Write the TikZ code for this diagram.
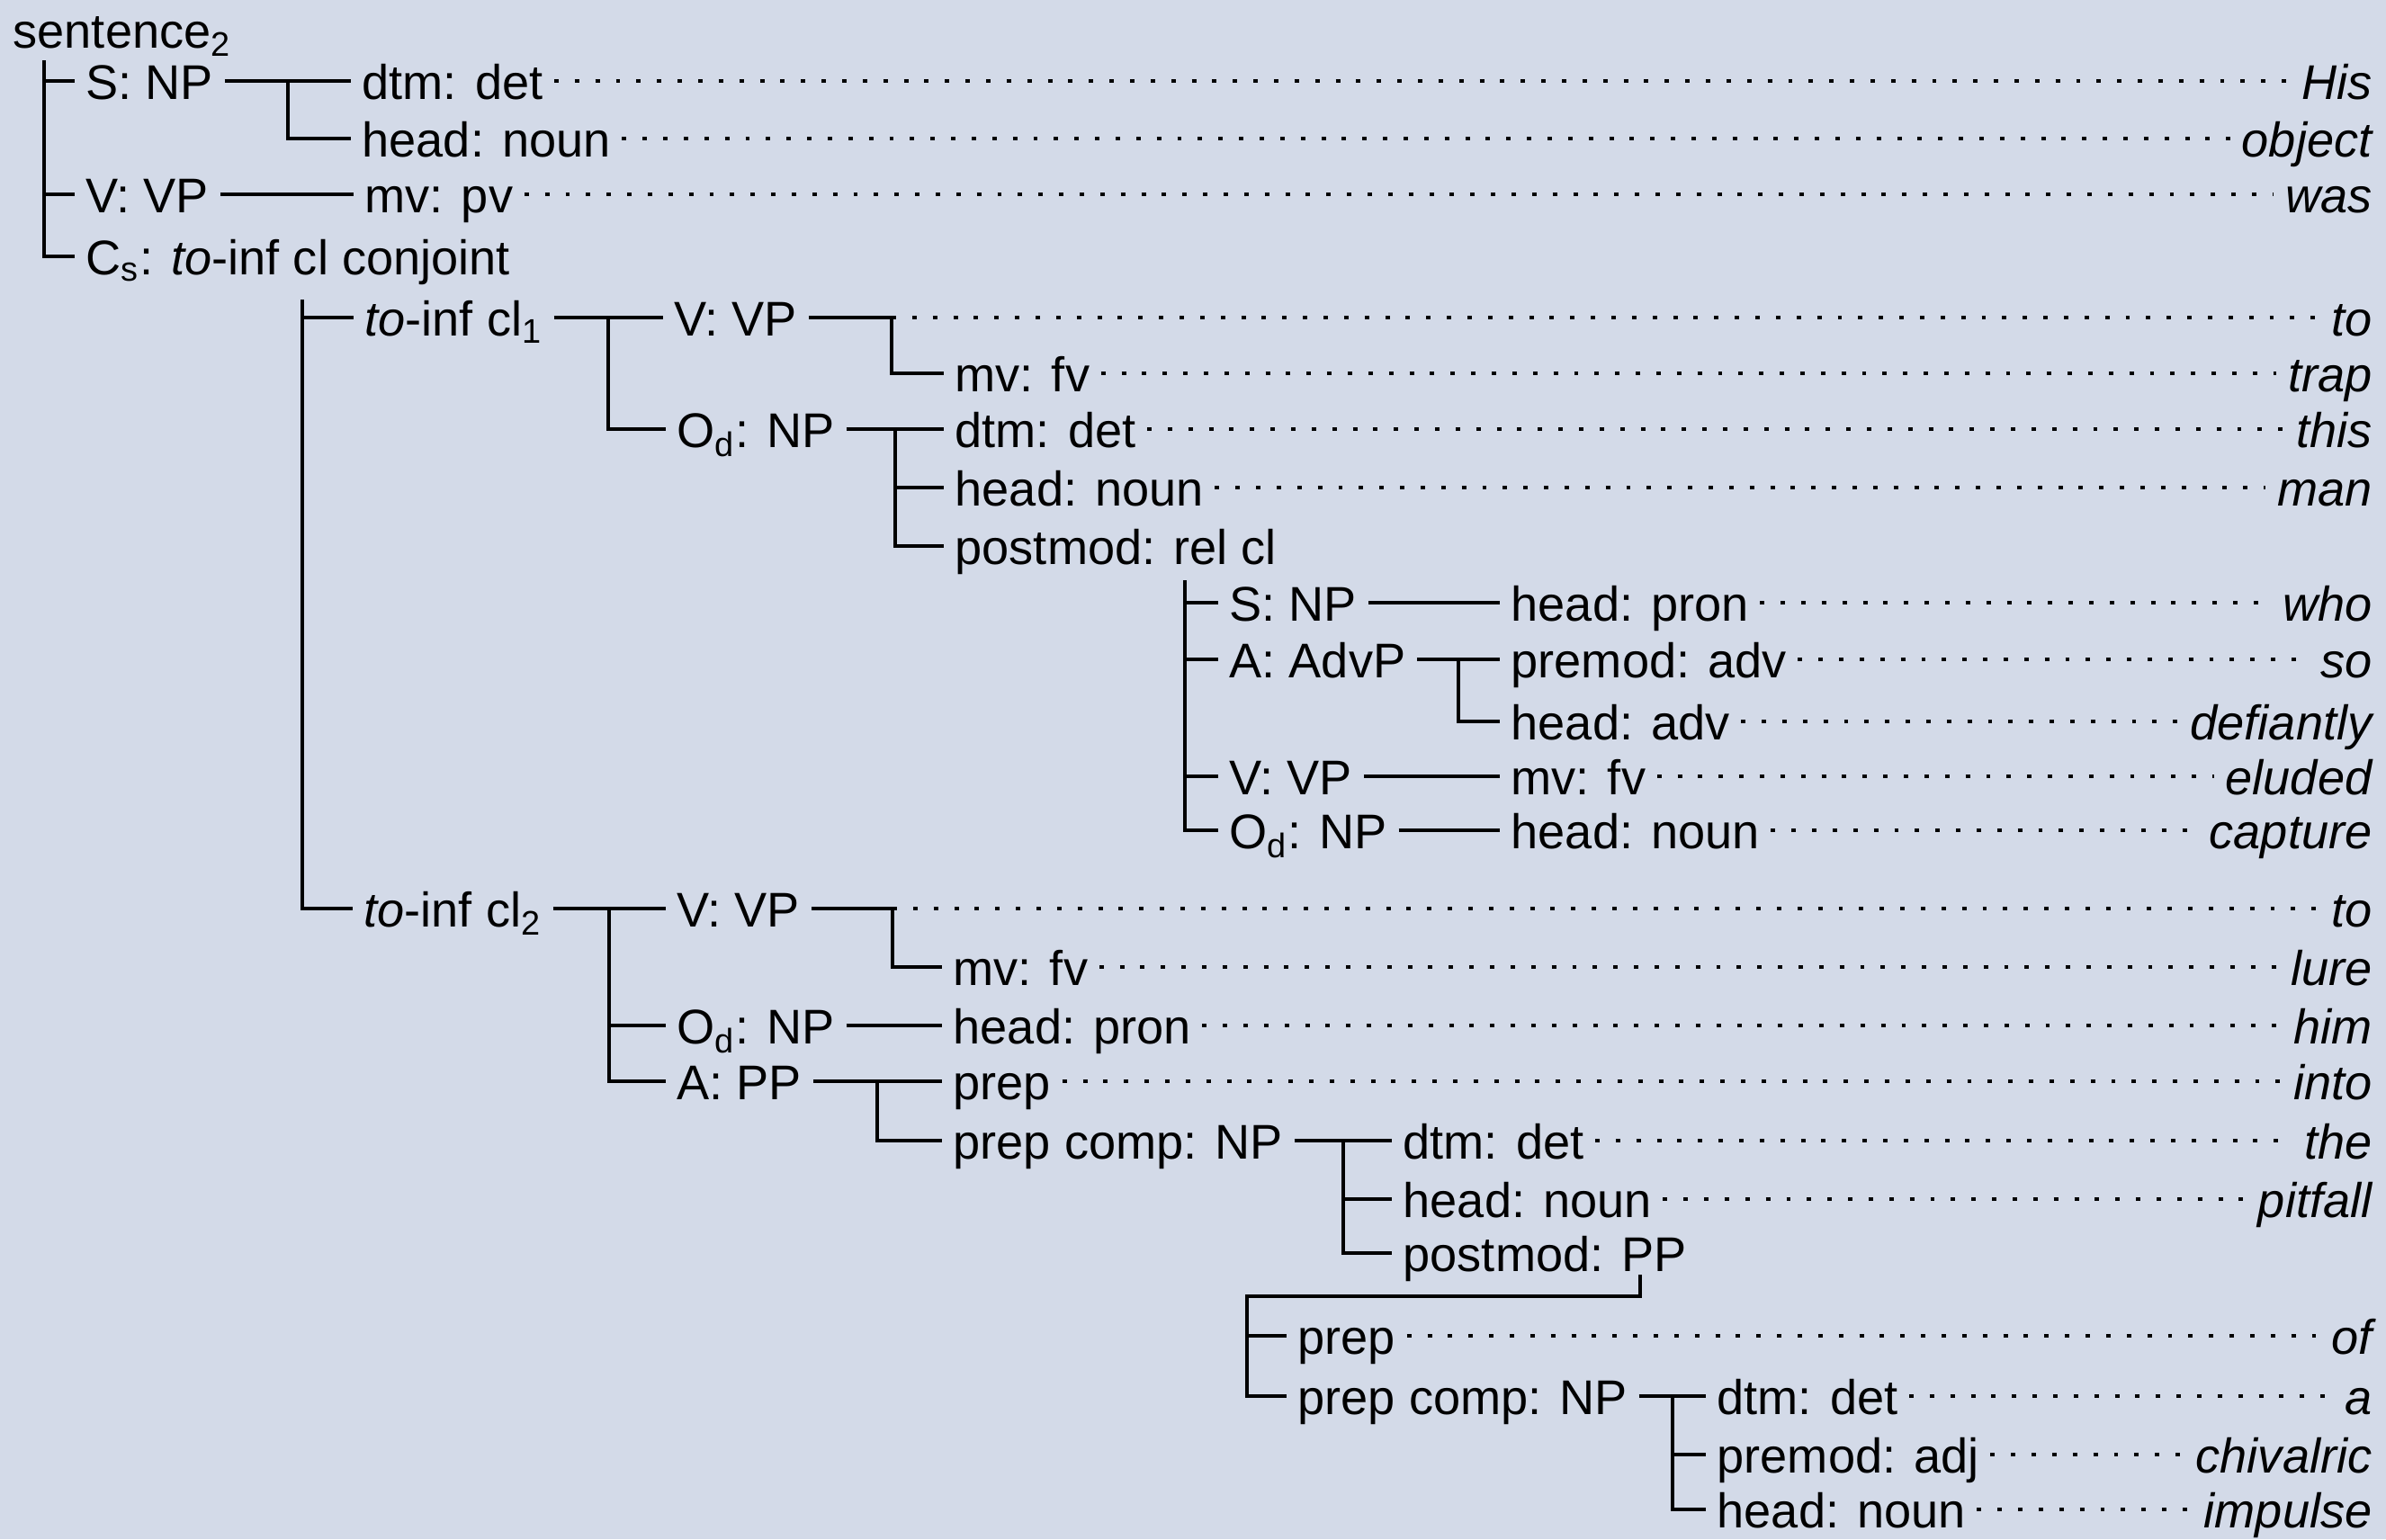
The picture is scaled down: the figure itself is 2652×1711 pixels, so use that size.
\documentclass[tikz,border=0pt]{standalone}
\usepackage{fontspec}
\setmainfont{Liberation Sans}
\usetikzlibrary{calc}
\definecolor{panel}{RGB}{211,218,232}
\tikzset{
  lbl/.style={anchor=west, inner xsep=3.4pt, inner ysep=0pt, text height=11.4pt, text depth=0pt, font=\fontsize{15.4}{18}\selectfont},
  wrd/.style={lbl, anchor=east, font=\fontsize{15.4}{18}\selectfont\itshape},
  br/.style={line width=1.15pt},
  leader/.style={line width=1.2pt, dash pattern=on 1.4pt off 5.1pt}
}

\begin{document}
\begin{tikzpicture}[x=0.01cm, y=-0.01cm]
\fill[panel] (0,0) rectangle (2652,1711);
\useasboundingbox (0,0) rectangle (2652,1711);

\node[lbl] (sent) at (2,33) {sentence\textsubscript{2}};
\node[lbl] (snp) at (83,90) {S: NP};
\node[lbl] (vvp) at (83,216) {V: VP};
\node[lbl] (cs) at (83,285) {C\textsubscript{s}: \textit{to}-inf cl conjoint};
\node[lbl] (dtm1) at (390,90) {dtm: det};
\node[lbl] (hn1) at (390,154) {head: noun};
\node[lbl] (mv1) at (393,216) {mv: pv};

\node[lbl] (cla) at (393,353) {\textit{to}-inf cl\textsubscript{1}};
\node[lbl] (va) at (737,353) {V: VP};
\node[lbl] (mva) at (1049,415) {mv: fv};
\node[lbl] (oa) at (740,477) {O\textsubscript{d}: NP};
\node[lbl] (dtma) at (1049,477) {dtm: det};
\node[lbl] (hna) at (1049,542) {head: noun};
\node[lbl] (pma) at (1049,607) {postmod: rel cl};

\node[lbl] (rs) at (1354,670) {S: NP};
\node[lbl] (ra) at (1354,733) {A: AdvP};
\node[lbl] (rv) at (1354,863) {V: VP};
\node[lbl] (ro) at (1354,923) {O\textsubscript{d}: NP};
\node[lbl] (rhp) at (1667,670) {head: pron};
\node[lbl] (rpa) at (1667,733) {premod: adv};
\node[lbl] (rha) at (1667,802) {head: adv};
\node[lbl] (rmv) at (1667,863) {mv: fv};
\node[lbl] (rhn) at (1667,923) {head: noun};

\node[lbl] (clb) at (392,1010) {\textit{to}-inf cl\textsubscript{2}};
\node[lbl] (vb) at (740,1010) {V: VP};
\node[lbl] (mvb) at (1047,1075) {mv: fv};
\node[lbl] (ob) at (740,1140) {O\textsubscript{d}: NP};
\node[lbl] (hpb) at (1047,1140) {head: pron};
\node[lbl] (ab) at (740,1202) {A: PP};
\node[lbl] (prb) at (1047,1202) {prep};
\node[lbl] (pcb) at (1047,1268) {prep comp: NP};
\node[lbl] (dtmb) at (1547,1268) {dtm: det};
\node[lbl] (hnb) at (1547,1333) {head: noun};
\node[lbl] (pmb) at (1547,1393) {postmod: PP};
\node[lbl] (prc) at (1430,1485) {prep};
\node[lbl] (pcc) at (1430,1552) {prep comp: NP};
\node[lbl] (dtmc) at (1896,1552) {dtm: det};
\node[lbl] (pmc) at (1896,1617) {premod: adj};
\node[lbl] (hnc) at (1896,1678) {head: noun};

% words of the sentence
\node[wrd] (w1) at (2649,90) {His};
\node[wrd] (w2) at (2649,154) {object};
\node[wrd] (w3) at (2649,216) {was};
\node[wrd] (w4) at (2649,353) {to};
\node[wrd] (w5) at (2649,415) {trap};
\node[wrd] (w6) at (2649,477) {this};
\node[wrd] (w7) at (2649,542) {man};
\node[wrd] (w8) at (2649,670) {who};
\node[wrd] (w9) at (2649,733) {so};
\node[wrd] (w10) at (2649,802) {defiantly};
\node[wrd] (w11) at (2649,863) {eluded};
\node[wrd] (w12) at (2649,923) {capture};
\node[wrd] (w13) at (2649,1010) {to};
\node[wrd] (w14) at (2649,1075) {lure};
\node[wrd] (w15) at (2649,1140) {him};
\node[wrd] (w16) at (2649,1202) {into};
\node[wrd] (w17) at (2649,1268) {the};
\node[wrd] (w18) at (2649,1333) {pitfall};
\node[wrd] (w19) at (2649,1485) {of};
\node[wrd] (w20) at (2649,1552) {a};
\node[wrd] (w21) at (2649,1617) {chivalric};
\node[wrd] (w22) at (2649,1678) {impulse};

\coordinate (t1) at (49,67);
\coordinate (t2) at (336,333);
\coordinate (t3) at (1317,645);
\coordinate (t4) at (1823,1417);
\coordinate (t5) at (1386,1441);
\coordinate (v1s) at (991,353);
\coordinate (v2s) at (992,1010);

% branches
\draw[br] (t1) |- (cs.west);
\foreach \n in {snp,vvp} \draw[br] (t1 |- \n.west) -- (\n.west);
\draw[br] (snp.east) -- (dtm1.west);
\draw[br] ($(snp.east)!.5!(dtm1.west)$) |- (hn1.west);
\draw[br] (vvp.east) -- (mv1.west);

\draw[br] (t2) |- (clb.west);
\draw[br] (t2 |- cla.west) -- (cla.west);
\draw[br] (cla.east) -- (va.west);
\draw[br] ($(cla.east)!.5!(va.west)$) |- (oa.west);
\draw[br] (va.east) -- (v1s) |- (mva.west);
\draw[br] (oa.east) -- (dtma.west);
\coordinate (oam) at ($(oa.east)!.5!(dtma.west)$);
\draw[br] (oam) |- (pma.west);
\draw[br] (oam |- hna.west) -- (hna.west);

\draw[br] (t3) |- (ro.west);
\foreach \n in {rs,ra,rv} \draw[br] (t3 |- \n.west) -- (\n.west);
\draw[br] (rs.east) -- (rhp.west);
\draw[br] (ra.east) -- (rpa.west);
\draw[br] ($(ra.east)!.5!(rpa.west)$) |- (rha.west);
\draw[br] (rv.east) -- (rmv.west);
\draw[br] (ro.east) -- (rhn.west);

\draw[br] (clb.east) -- (vb.west);
\coordinate (clm) at ($(clb.east)!.5!(vb.west)$);
\draw[br] (clm) |- (ab.west);
\draw[br] (clm |- ob.west) -- (ob.west);
\draw[br] (vb.east) -- (v2s) |- (mvb.west);
\draw[br] (ob.east) -- (hpb.west);
\draw[br] (ab.east) -- (prb.west);
\draw[br] ($(ab.east)!.5!(prb.west)$) |- (pcb.west);
\draw[br] (pcb.east) -- (dtmb.west);
\coordinate (pcm) at ($(pcb.east)!.5!(dtmb.west)$);
\draw[br] (pcm) |- (pmb.west);
\draw[br] (pcm |- hnb.west) -- (hnb.west);

\draw[br] (t4) |- (t5) |- (pcc.west);
\draw[br] (t5 |- prc.west) -- (prc.west);
\draw[br] (pcc.east) -- (dtmc.west);
\coordinate (pcn) at ($(pcc.east)!.5!(dtmc.west)$);
\draw[br] (pcn) |- (hnc.west);
\draw[br] (pcn |- pmc.west) -- (pmc.west);

% dotted leaders
\foreach \a/\b in {dtm1/w1, hn1/w2, mv1/w3, mva/w5, dtma/w6, hna/w7, rhp/w8, rpa/w9, rha/w10, rmv/w11, rhn/w12, mvb/w14, hpb/w15, prb/w16, dtmb/w17, hnb/w18, prc/w19, dtmc/w20, pmc/w21, hnc/w22}
  \draw[leader] (\a.east) -- (\b.west);
\draw[leader] (v1s) -- (w4.west);
\draw[leader] (v2s) -- (w13.west);
\end{tikzpicture}
\end{document}
